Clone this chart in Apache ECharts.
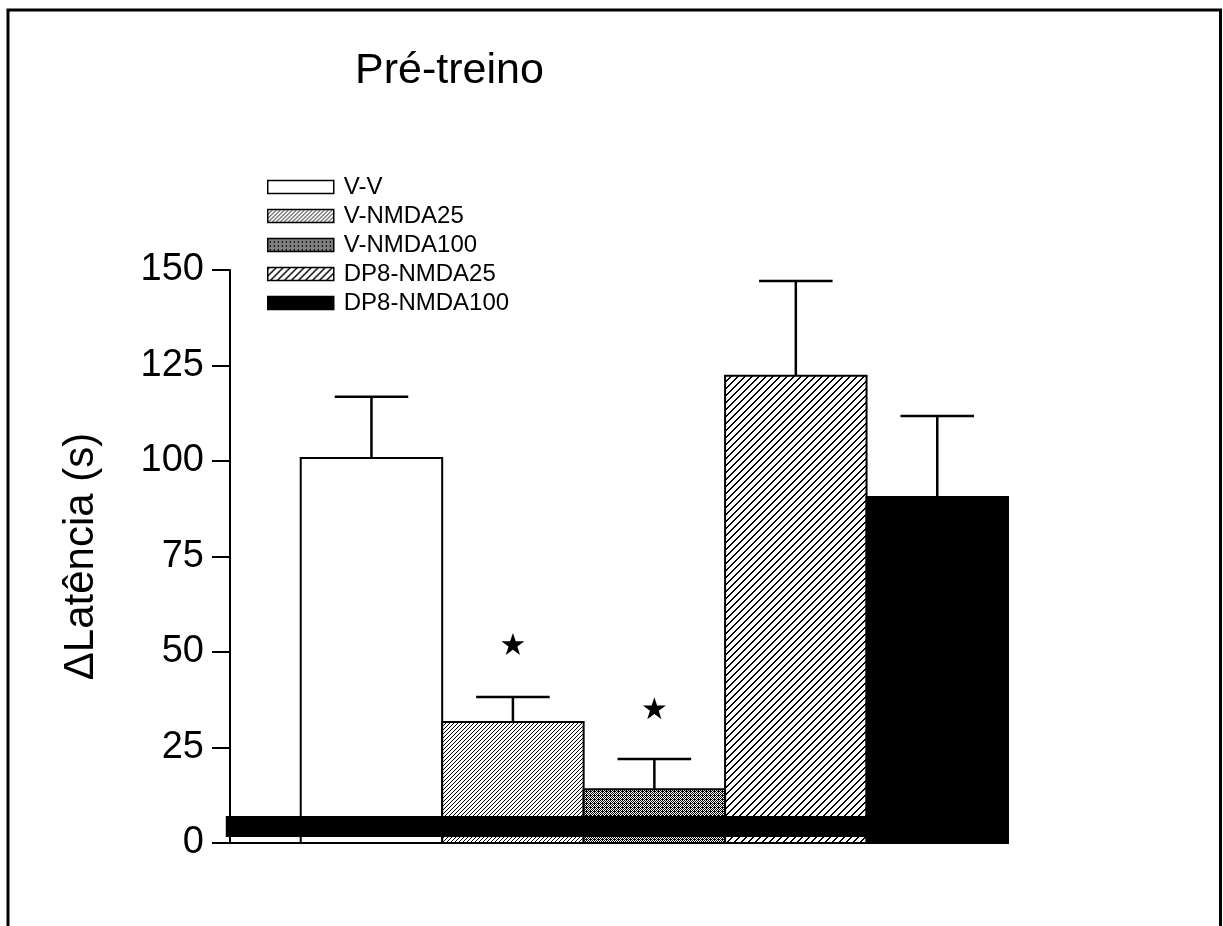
<!DOCTYPE html>
<html>
<head>
<meta charset="utf-8">
<script src="https://cdn.jsdelivr.net/npm/echarts@6/dist/echarts.min.js"></script>
<style>
html,body{margin:0;padding:0;background:#fff;}
#chart{width:1223px;height:926px;}
</style>
</head>
<body>
<div id="chart"></div>
<script>
// ---- data ----
const categories = ['V-V', 'V-NMDA25', 'V-NMDA100', 'DP8-NMDA25', 'DP8-NMDA100'];
const means = [100.8, 31.7, 14.1, 122.3, 90.6];
const sems = [16.0, 6.5, 7.9, 24.8, 21.2];
const starValues = [null, 52.1, 35.3, null, null];
const baseBand = [-0.03, 4.5, 1.6, 7.1]; // x from, x to (group units), y low, y high (data units)
const yTickValues = [0, 25, 50, 75, 100, 125, 150];
const titleText = 'Pré-treino';
const yAxisName = 'ΔLatência (s)';

// ---- patterns ----
function makePattern(rows) {
  const h = rows.length, w = rows[0].length;
  const c = document.createElement('canvas');
  c.width = w; c.height = h;
  const ctx = c.getContext('2d');
  const img = ctx.createImageData(w, h);
  for (let y = 0; y < h; y++) for (let x = 0; x < w; x++) {
    const k = (y * w + x) * 4;
    const v = rows[y][x] === 'B' ? 0 : 255;
    img.data[k] = v; img.data[k + 1] = v; img.data[k + 2] = v; img.data[k + 3] = 255;
  }
  ctx.putImageData(img, 0, 0);
  return { image: c, repeat: 'repeat' };
}
function diagRows(period, thick) {
  const rows = [];
  for (let y = 0; y < period; y++) {
    let r = '';
    for (let x = 0; x < period; x++) r += (((x + y) % period) < thick) ? 'B' : 'W';
    rows.push(r);
  }
  return rows;
}
const fills = [
  '#ffffff',
  makePattern(diagRows(4, 1)),
  makePattern(['BWBW', 'WBWB', 'BWBW', 'WBBB']),
  makePattern(diagRows(7, 2)),
  '#000000'
];

const FONT = '"Liberation Sans", Arial, Helvetica, sans-serif';

const chart = echarts.init(document.getElementById('chart'), null, { renderer: 'canvas' });

const barSeries = categories.map((name, i) => ({
  name: name,
  type: 'custom',
  itemStyle: { color: fills[i], borderColor: '#000', borderWidth: 2 },
  data: [[i + 1, means[i]]],
  z: 2,
  renderItem: function (params, api) {
    const x = api.value(0), y = api.value(1);
    const p0 = api.coord([x - 0.5, y]);
    const p1 = api.coord([x + 0.5, 0]);
    return {
      type: 'rect',
      shape: { x: p0[0], y: p0[1], width: p1[0] - p0[0], height: p1[1] - p0[1] },
      style: { fill: fills[i], stroke: '#000', lineWidth: 2 }
    };
  }
}));

const errSeries = {
  type: 'custom',
  name: 'err',
  z: 3,
  data: means.map((m, i) => [i + 1, m, m + sems[i]]),
  renderItem: function (params, api) {
    const x = api.value(0);
    const a = api.coord([x, api.value(1)]);
    const b = api.coord([x, api.value(2)]);
    const l = api.coord([x - 0.26, api.value(2)]);
    const r = api.coord([x + 0.26, api.value(2)]);
    const st = { stroke: '#000', lineWidth: 2.5 };
    return {
      type: 'group',
      children: [
        { type: 'line', shape: { x1: a[0], y1: a[1], x2: b[0], y2: b[1] }, style: st },
        { type: 'line', shape: { x1: l[0], y1: l[1], x2: r[0], y2: r[1] }, style: st }
      ]
    };
  }
};

const starSeries = {
  type: 'scatter',
  name: 'stars',
  z: 4,
  symbol: 'path://M12,0 L14.9,8.5 L24,8.5 L16.6,13.8 L19.4,22.5 L12,17.2 L4.6,22.5 L7.4,13.8 L0,8.5 L9.1,8.5 Z',
  symbolSize: [23, 22],
  itemStyle: { color: '#000', opacity: 1 },
  data: starValues.map((v, i) => v == null ? null : [i + 1, v]).filter(d => d)
};

const bandSeries = {
  type: 'custom',
  name: 'band',
  z: 5,
  clip: false,
  data: [baseBand],
  renderItem: function (params, api) {
    const p0 = api.coord([api.value(0), api.value(3)]);
    const p1 = api.coord([api.value(1), api.value(2)]);
    return {
      type: 'rect',
      shape: { x: p0[0], y: p0[1], width: p1[0] - p0[0], height: p1[1] - p0[1] },
      style: { fill: '#000' }
    };
  }
};

const option = {
  backgroundColor: '#ffffff',
  animation: false,
  title: {
    text: titleText,
    left: 350,
    top: 45,
    textStyle: { fontFamily: FONT, fontSize: 43, fontWeight: 'normal', color: '#000' }
  },
  legend: {
    data: categories,
    orient: 'vertical',
    left: 262,
    top: 170,
    icon: 'rect',
    itemWidth: 66,
    itemHeight: 13,
    itemGap: 5,
    selectedMode: false,
    itemStyle: { borderColor: '#000', borderWidth: 1.5 },
    textStyle: { fontFamily: FONT, fontSize: 24, color: '#000', lineHeight: 24, padding: [0, 0, 0, 5] }
  },
  grid: { left: 230, right: 215, top: 270, bottom: 83, containLabel: false, outerBoundsMode: 'none' },
  xAxis: {
    type: 'value',
    min: 0,
    max: 5.5,
    axisLine: { show: true, lineStyle: { color: '#000', width: 2 } },
    axisTick: { show: false },
    axisLabel: { show: false },
    splitLine: { show: false }
  },
  yAxis: {
    type: 'value',
    min: yTickValues[0],
    max: yTickValues[yTickValues.length - 1],
    interval: yTickValues[1] - yTickValues[0],
    name: yAxisName,
    nameLocation: 'middle',
    nameRotate: 90,
    nameGap: 128,
    nameTextStyle: { fontFamily: FONT, fontSize: 42, color: '#000' },
    axisLine: { show: true, lineStyle: { color: '#000', width: 2 } },
    axisTick: { show: true, length: 18, lineStyle: { color: '#000', width: 2 } },
    axisLabel: { fontFamily: FONT, fontSize: 38, color: '#000', margin: 26 },
    splitLine: { show: false }
  },
  graphic: [{
    type: 'polyline',
    silent: true,
    shape: { points: [[8, 926], [8, 10], [1220.5, 10], [1220.5, 926]] },
    style: { stroke: '#000', lineWidth: 3, fill: null }
  }],
  series: barSeries.concat([errSeries, starSeries, bandSeries])
};
chart.setOption(option);
</script>
</body>
</html>
